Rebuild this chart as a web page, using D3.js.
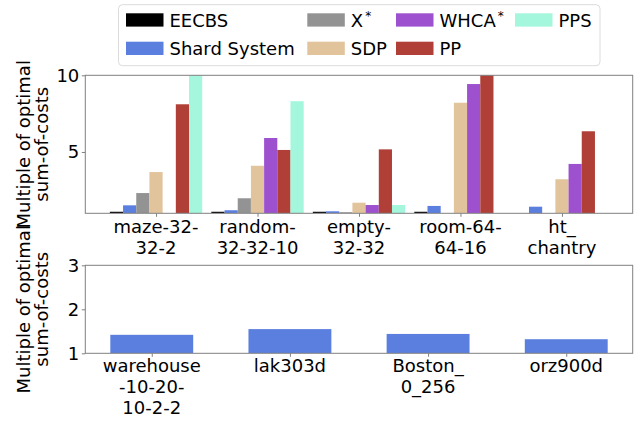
<!DOCTYPE html>
<html>
<head>
<meta charset="utf-8">
<script src="https://cdn.jsdelivr.net/npm/d3@7"></script>
<style>
  body { margin: 0; background: #fff; }
  text { font-family: "DejaVu Sans", sans-serif; fill: #000; }
</style>
</head>
<body>
<svg id="chart"></svg>
<script>
// ---- data ----
const topMaps = ["maze-32-32-2", "random-32-32-10", "empty-32-32", "room-64-64-16", "ht_chantry"];
const topTickLabels = [["maze-32-", "32-2"], ["random-", "32-32-10"], ["empty-", "32-32"], ["room-64-", "64-16"], ["ht_", "chantry"]];
const seriesNames = ["EECBS", "Shard System", "X", "SDP", "WHCA", "PP", "PPS"];
const seriesStar = [false, false, true, false, true, false, false];
const seriesColors = ["#000000", "#5b7fdf", "#939393", "#e2c49c", "#9d51cf", "#b03f37", "#a4f7dc"];

const eecbs = [1.1, 1.1, 1.1, 1.1, null];
const shard = [1.52, 1.2, 1.13, 1.48, 1.43];
const xstar = [2.32, 1.98, 1.07, null, null];
const sdp   = [3.69, 4.1, 1.69, 8.21, 3.22];
const whca  = [null, 5.91, 1.54, 9.43, 4.22];
const pp    = [8.11, 5.13, 5.17, 10.5, 6.35];
const pps   = [10.5, 8.31, 1.54, null, null];
const topSeries = [eecbs, shard, xstar, sdp, whca, pp, pps];
const topTicks = [5, 10];

const bottomMaps = ["warehouse-10-20-10-2-2", "lak303d", "Boston_0_256", "orz900d"];
const bottomTickLabels = [["warehouse", "-10-20-", "10-2-2"], ["lak303d"], ["Boston_", "0_256"], ["orz900d"]];
const bottomShard = [1.42, 1.55, 1.44, 1.32];
const bottomTicks = [1, 2, 3];

// ---- layout ----
const W = 641, H = 422;
const left = 85.3, right = 632.7;
const axisColor = "#808080";
const fs = 18;

const svg = d3.select("#chart").attr("width", W).attr("height", H);

function drawPanel(cfg) {
  const g = svg.append("g");
  const x = d3.scalePoint().domain(cfg.cats).range([left, right]).padding(cfg.pad);
  const y = d3.scaleLinear().domain(cfg.yDomain).range([cfg.bottom, cfg.top]);
  const clipId = "clip" + cfg.id;
  svg.append("clipPath").attr("id", clipId).append("rect")
    .attr("x", left).attr("y", cfg.top).attr("width", right - left).attr("height", cfg.bottom - cfg.top);

  const bars = g.append("g").attr("clip-path", `url(#${clipId})`);
  const step = x.step();
  cfg.series.forEach((vals, si) => {
    const sub = cfg.sub;
    bars.selectAll(null)
      .data(vals.map((v, i) => ({ v, c: cfg.cats[i] })).filter(d => d.v != null))
      .enter().append("rect")
      .attr("x", d => x(d.c) + sub(si))
      .attr("width", sub.bandwidth())
      .attr("y", d => y(d.v))
      .attr("height", d => y(cfg.yDomain[0]) - y(d.v))
      .attr("fill", cfg.colors[si]);
  });

  // frame
  g.append("rect").attr("x", left).attr("y", cfg.top)
    .attr("width", right - left).attr("height", cfg.bottom - cfg.top)
    .attr("fill", "none").attr("stroke", axisColor).attr("stroke-width", 1);

  // y axis
  const ya = g.append("g").attr("transform", `translate(${left},0)`)
    .call(d3.axisLeft(y).tickValues(cfg.yTicks).tickSize(3.5).tickPadding(2.5).tickFormat(d3.format("d")));
  ya.select(".domain").remove();
  ya.selectAll(".tick line").attr("stroke", axisColor);
  ya.selectAll(".tick text").attr("font-size", fs).attr("font-family", "DejaVu Sans").attr("fill", "#000");

  // x axis
  const xa = g.append("g").attr("transform", `translate(0,${cfg.bottom})`)
    .call(d3.axisBottom(x).tickSize(3.5).tickFormat(""));
  xa.select(".domain").remove();
  xa.selectAll(".tick line").attr("stroke", axisColor);
  cfg.cats.forEach((c, i) => {
    const t = g.append("text").attr("text-anchor", "middle").attr("font-size", fs)
      .attr("x", x(c)).attr("y", cfg.bottom + cfg.labelOffset);
    cfg.tickLabels[i].forEach((line, li) => {
      t.append("tspan").attr("x", x(c)).attr("dy", li === 0 ? 0 : 21).text(line);
    });
  });

  // y label
  const cy = (cfg.top + cfg.bottom) / 2;
  [["Multiple of optimal", 29.5], ["sum-of-costs", 48]].forEach(([s, bx]) => {
    g.append("text").attr("text-anchor", "middle").attr("font-size", fs)
      .attr("transform", `translate(${bx},${cy}) rotate(-90)`).text(s);
  });
  return { x, y };
}

// top panel
const topStep = (right - left) / (topMaps.length - 1 + 2 * 0.697);
drawPanel({
  id: "top", cats: topMaps, tickLabels: topTickLabels, pad: 0.697,
  yDomain: [1, 10], yTicks: topTicks, top: 75.3, bottom: 213.3,
  series: topSeries, colors: seriesColors,
  sub: d3.scaleBand().domain(d3.range(seriesNames.length)).range([-0.455 * topStep, 0.455 * topStep]),
  labelOffset: 20
});

// bottom panel
const botStep = (right - left) / (bottomMaps.length - 1 + 2 * 0.481);
drawPanel({
  id: "bot", cats: bottomMaps, tickLabels: bottomTickLabels, pad: 0.481,
  yDomain: [1, 3], yTicks: bottomTicks, top: 265.3, bottom: 353.3,
  series: [bottomShard], colors: [seriesColors[1]],
  sub: d3.scaleBand().domain([0]).range([-0.3 * botStep, 0.3 * botStep]),
  labelOffset: 18.5
});

// legend
const legend = svg.append("g");
legend.append("rect").attr("x", 118.5).attr("y", 4.7).attr("width", 481.5).attr("height", 61)
  .attr("rx", 4).attr("fill", "#fff").attr("stroke", "#dcdcdc").attr("stroke-width", 1);
const colX = [126, 307.3, 396, 515];
const rowY = [13.3, 41.7];
seriesNames.forEach((name, i) => {
  const cx = colX[Math.floor(i / 2)], ry = rowY[i % 2];
  legend.append("rect").attr("x", cx).attr("y", ry).attr("width", 37.5).attr("height", 13.3)
    .attr("fill", seriesColors[i]);
  const t = legend.append("text").attr("x", cx + 43.5).attr("y", ry + 13.3).attr("font-size", fs).text(name);
  if (seriesStar[i]) {
    t.append("tspan").attr("font-size", 12).attr("dx", 2).attr("dy", -7).text("*");
  }
});
</script>
</body>
</html>
